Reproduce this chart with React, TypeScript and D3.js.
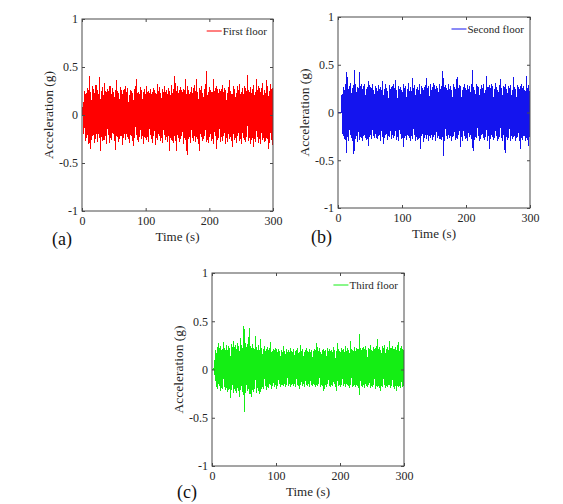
import React, { useEffect, useRef } from 'react';
import * as d3 from 'd3';

// sampled acceleration records, one value per second from t = 0 to 300 s
const timeStep = 1;

const firstFloor = [
  0, 0, 0.14, -0.2, 0.25, -0.27, 0.22, -0.24, 0.28, -0.21, 0.26, -0.3, 0.41, -0.35, 0.24, -0.26, 0.3, -0.22, 0.27, -0.29,
  0.23, -0.25, 0.31, -0.2, 0.26, -0.28, 0.22, -0.24, 0.4, -0.38, 0.25, -0.23, 0.29, -0.27, 0.21, -0.26, 0.33, -0.22, 0.24, -0.3,
  0.27, -0.21, 0.25, -0.29, 0.3, -0.24, 0.22, -0.26, 0.28, -0.2, 0.24, -0.27, 0.26, -0.36, 0.36, -0.23, 0.25, -0.28, 0.23, -0.25,
  0.29, -0.22, 0.26, -0.31, 0.22, -0.24, 0.27, -0.2, 0.3, -0.26, 0.24, -0.23, 0.28, -0.25, 0.21, -0.29, 0.26, -0.22, 0.25, -0.27,
  0.23, -0.32, 0.27, -0.24, 0.3, -0.21, 0.38, -0.26, 0.24, -0.28, 0.22, -0.23, 0.29, -0.25, 0.26, -0.22, 0.24, -0.3, 0.27, -0.24,
  0.22, -0.26, 0.3, -0.23, 0.25, -0.28, 0.23, -0.21, 0.27, -0.25, 0.24, -0.29, 0.28, -0.22, 0.26, -0.31, 0.23, -0.24, 0.32, -0.26,
  0.25, -0.22, 0.29, -0.27, 0.23, -0.24, 0.27, -0.29, 0.24, -0.21, 0.3, -0.26, 0.26, -0.23, 0.22, -0.28, 0.28, -0.38, 0.25, -0.24,
  0.31, -0.26, 0.23, -0.29, 0.27, -0.22, 0.41, -0.27, 0.25, -0.38, 0.3, -0.24, 0.23, -0.28, 0.29, -0.25, 0.26, -0.22, 0.24, -0.3,
  0.27, -0.24, 0.37, -0.26, 0.22, -0.42, 0.3, -0.25, 0.26, -0.23, 0.24, -0.29, 0.29, -0.24, 0.23, -0.27, 0.31, -0.22, 0.25, -0.28,
  0.38, -0.25, 0.24, -0.3, 0.28, -0.37, 0.26, -0.23, 0.3, -0.27, 0.23, -0.25, 0.27, -0.22, 0.32, -0.28, 0.46, -0.26, 0.24, -0.29,
  0.29, -0.23, 0.26, -0.27, 0.24, -0.25, 0.38, -0.3, 0.25, -0.22, 0.28, -0.35, 0.3, -0.26, 0.23, -0.24, 0.27, -0.28, 0.25, -0.23,
  0.31, -0.27, 0.24, -0.22, 0.28, -0.3, 0.26, -0.24, 0.23, -0.28, 0.29, -0.25, 0.36, -0.23, 0.25, -0.27, 0.22, -0.33, 0.3, -0.26,
  0.27, -0.24, 0.23, -0.29, 0.3, -0.22, 0.26, -0.27, 0.32, -0.25, 0.24, -0.3, 0.28, -0.24, 0.22, -0.26, 0.3, -0.28, 0.25, -0.23,
  0.42, -0.27, 0.26, -0.24, 0.29, -0.3, 0.23, -0.26, 0.27, -0.33, 0.31, -0.25, 0.24, -0.28, 0.38, -0.23, 0.26, -0.29, 0.3, -0.25,
  0.24, -0.3, 0.28, -0.26, 0.33, -0.24, 0.26, -0.28, 0.23, -0.27, 0.36, -0.25, 0.3, -0.35, 0.25, -0.29, 0.32, -0.26, 0.27, -0.31,
  0.28,
];

const secondFloor = [
  0, 0, 0, 0, 0, 0, 0.18, -0.22, 0.27, -0.25, 0.24, -0.29, 0.3, -0.42, 0.42, -0.26, 0.25, -0.3, 0.28, -0.24,
  0.31, -0.27, 0.26, -0.3, 0.29, -0.43, 0.45, -0.28, 0.3, -0.25, 0.27, -0.31, 0.26, -0.29, 0.42, -0.26, 0.3, -0.27, 0.25, -0.3,
  0.28, -0.24, 0.3, -0.27, 0.25, -0.29, 0.27, -0.35, 0.33, -0.26, 0.29, -0.24, 0.26, -0.28, 0.3, -0.25, 0.24, -0.27, 0.28, -0.23,
  0.26, -0.28, 0.23, -0.25, 0.29, -0.24, 0.27, -0.3, 0.24, -0.26, 0.33, -0.33, 0.25, -0.27, 0.3, -0.24, 0.26, -0.29, 0.23, -0.25,
  0.29, -0.26, 0.25, -0.28, 0.27, -0.24, 0.3, -0.27, 0.26, -0.25, 0.34, -0.29, 0.24, -0.26, 0.28, -0.3, 0.25, -0.23, 0.27, -0.28,
  0.24, -0.27, 0.3, -0.36, 0.26, -0.25, 0.28, -0.29, 0.25, -0.24, 0.31, -0.27, 0.23, -0.3, 0.27, -0.25, 0.36, -0.28, 0.26, -0.24,
  0.29, -0.3, 0.25, -0.26, 0.27, -0.29, 0.24, -0.27, 0.3, -0.38, 0.28, -0.25, 0.26, -0.31, 0.24, -0.27, 0.29, -0.24, 0.36, -0.28,
  0.26, -0.3, 0.28, -0.25, 0.3, -0.27, 0.24, -0.29, 0.27, -0.26, 0.31, -0.24, 0.25, -0.3, 0.28, -0.27, 0.26, -0.25, 0.3, -0.28,
  0.25, -0.29, 0.28, -0.26, 0.43, -0.46, 0.27, -0.3, 0.29, -0.25, 0.26, -0.28, 0.3, -0.24, 0.25, -0.27, 0.28, -0.3, 0.24, -0.26,
  0.3, -0.25, 0.27, -0.29, 0.25, -0.27, 0.37, -0.28, 0.26, -0.24, 0.29, -0.36, 0.28, -0.26, 0.24, -0.3, 0.27, -0.25, 0.3, -0.28,
  0.26, -0.27, 0.29, -0.3, 0.25, -0.26, 0.28, -0.24, 0.3, -0.28, 0.45, -0.4, 0.27, -0.29, 0.24, -0.26, 0.3, -0.27, 0.28, -0.25,
  0.27, -0.3, 0.25, -0.28, 0.29, -0.24, 0.26, -0.27, 0.3, -0.29, 0.24, -0.26, 0.38, -0.3, 0.27, -0.25, 0.29, -0.38, 0.26, -0.28,
  0.3, -0.26, 0.28, -0.29, 0.25, -0.27, 0.31, -0.25, 0.27, -0.3, 0.24, -0.28, 0.29, -0.26, 0.35, -0.27, 0.26, -0.3, 0.28, -0.24,
  0.27, -0.42, 0.3, -0.26, 0.25, -0.29, 0.28, -0.27, 0.26, -0.3, 0.29, -0.25, 0.24, -0.28, 0.37, -0.26, 0.27, -0.3, 0.25, -0.27,
  0.29, -0.26, 0.27, -0.3, 0.25, -0.38, 0.3, -0.27, 0.26, -0.29, 0.28, -0.25, 0.24, -0.3, 0.38, -0.27, 0.26, -0.35, 0.29, -0.26,
  0.22,
];

const thirdFloor = [
  0, 0, 0, 0, 0.1, -0.12, 0.2, -0.18, 0.23, -0.2, 0.27, -0.17, 0.22, -0.22, 0.24, -0.19, 0.21, -0.2, 0.28, -0.18,
  0.22, -0.21, 0.25, -0.19, 0.2, -0.23, 0.24, -0.2, 0.22, -0.3, 0.26, -0.21, 0.23, -0.24, 0.3, -0.2, 0.25, -0.22, 0.21, -0.24,
  0.27, -0.22, 0.24, -0.28, 0.33, -0.21, 0.25, -0.23, 0.22, -0.26, 0.45, -0.44, 0.27, -0.24, 0.23, -0.22, 0.26, -0.2, 0.43, -0.25,
  0.24, -0.28, 0.22, -0.21, 0.26, -0.23, 0.21, -0.2, 0.35, -0.24, 0.23, -0.19, 0.25, -0.22, 0.2, -0.25, 0.32, -0.2, 0.22, -0.18,
  0.21, -0.2, 0.24, -0.17, 0.19, -0.21, 0.23, -0.18, 0.2, -0.19, 0.22, -0.16, 0.28, -0.2, 0.19, -0.17, 0.21, -0.18, 0.2, -0.16,
  0.22, -0.2, 0.18, -0.17, 0.21, -0.15, 0.19, -0.18, 0.2, -0.16, 0.18, -0.17, 0.24, -0.15, 0.19, -0.18, 0.21, -0.16, 0.18, -0.17,
  0.2, -0.15, 0.22, -0.18, 0.19, -0.16, 0.18, -0.17, 0.21, -0.15, 0.19, -0.18, 0.2, -0.16, 0.22, -0.17, 0.18, -0.2, 0.25, -0.16,
  0.19, -0.17, 0.21, -0.15, 0.18, -0.18, 0.2, -0.16, 0.22, -0.17, 0.19, -0.15, 0.21, -0.18, 0.18, -0.16, 0.2, -0.17, 0.19, -0.15,
  0.21, -0.18, 0.2, -0.16, 0.27, -0.17, 0.19, -0.15, 0.22, -0.18, 0.18, -0.16, 0.2, -0.17, 0.21, -0.22, 0.19, -0.16, 0.2, -0.18,
  0.22, -0.15, 0.19, -0.17, 0.21, -0.18, 0.2, -0.16, 0.18, -0.17, 0.23, -0.15, 0.2, -0.18, 0.19, -0.22, 0.27, -0.17, 0.21, -0.16,
  0.19, -0.18, 0.22, -0.16, 0.2, -0.17, 0.21, -0.15, 0.24, -0.18, 0.19, -0.16, 0.22, -0.17, 0.2, -0.19, 0.3, -0.16, 0.21, -0.18,
  0.2, -0.17, 0.23, -0.16, 0.19, -0.18, 0.22, -0.17, 0.21, -0.19, 0.37, -0.26, 0.22, -0.17, 0.2, -0.18, 0.23, -0.16, 0.21, -0.19,
  0.24, -0.17, 0.2, -0.18, 0.22, -0.16, 0.21, -0.19, 0.25, -0.17, 0.2, -0.18, 0.23, -0.16, 0.21, -0.2, 0.22, -0.17, 0.32, -0.18,
  0.21, -0.19, 0.23, -0.22, 0.2, -0.17, 0.24, -0.18, 0.22, -0.16, 0.25, -0.19, 0.21, -0.17, 0.23, -0.18, 0.2, -0.16, 0.3, -0.19,
  0.22, -0.17, 0.24, -0.18, 0.21, -0.2, 0.23, -0.17, 0.2, -0.22, 0.25, -0.18, 0.28, -0.17, 0.22, -0.19, 0.24, -0.18, 0.21, -0.17,
  0.2,
];

const xTicks = [0, 100, 200, 300];
const yTicks = [-1, -0.5, 0, 0.5, 1];

const panels = [
  { data: firstFloor, name: 'First floor', color: '#ff0000', tag: '(a)', x: 82, y: 19, w: 191, h: 192, tagX: 52, tagY: 245 },
  { data: secondFloor, name: 'Second floor', color: '#1414ee', tag: '(b)', x: 338, y: 17, w: 192, h: 191, tagX: 311, tagY: 243 },
  { data: thirdFloor, name: 'Third floor', color: '#14ee14', tag: '(c)', x: 212, y: 273, w: 192, h: 193, tagX: 177, tagY: 498 },
];

const FONT = '"Liberation Serif", "Times New Roman", serif';
const AXIS_COLOR = '#4a4a4a';
const TEXT_COLOR = '#262626';

export default function App() {
  const svgRef = useRef<SVGSVGElement>(null);

  useEffect(() => {
    if (!svgRef.current) return;
    const svg = d3.select(svgRef.current);
    svg.selectAll('*').remove();

    panels.forEach((p) => {
      const xScale = d3.scaleLinear().domain([0, 300]).range([0, p.w]);
      const yScale = d3.scaleLinear().domain([-1, 1]).range([p.h, 0]);

      const g = svg.append('g').attr('transform', `translate(${p.x},${p.y})`);

      // signal
      const line = d3.line<number>()
        .x((d, i) => xScale(i * timeStep))
        .y((d) => yScale(d));

      g.append('path')
        .datum(p.data)
        .attr('d', line)
        .attr('fill', 'none')
        .attr('stroke', p.color)
        .attr('stroke-width', 1)
        .attr('shape-rendering', 'crispEdges');

      // axes, ticks pointing inward on all four sides
      const styleAxis = (sel: d3.Selection<SVGGElement, unknown, null, undefined>) => {
        sel.attr('font-family', FONT).attr('font-size', 12);
        sel.select('.domain').remove();
        sel.selectAll('line').attr('stroke', AXIS_COLOR);
        sel.selectAll('text').attr('fill', TEXT_COLOR);
      };

      g.append('g')
        .attr('transform', `translate(0,${p.h})`)
        .call(d3.axisBottom(xScale).tickValues(xTicks).tickSizeInner(-3).tickSizeOuter(0).tickPadding(5).tickFormat((d) => String(d)))
        .call(styleAxis);
      g.append('g')
        .call(d3.axisTop(xScale).tickValues(xTicks).tickSizeInner(-3).tickSizeOuter(0).tickFormat(() => ''))
        .call(styleAxis);
      g.append('g')
        .call(d3.axisLeft(yScale).tickValues(yTicks).tickSizeInner(-3).tickSizeOuter(0).tickPadding(4).tickFormat((d) => String(d)))
        .call(styleAxis);
      g.append('g')
        .attr('transform', `translate(${p.w},0)`)
        .call(d3.axisRight(yScale).tickValues(yTicks).tickSizeInner(-3).tickSizeOuter(0).tickFormat(() => ''))
        .call(styleAxis);

      g.append('rect')
        .attr('x', 0)
        .attr('y', 0)
        .attr('width', p.w)
        .attr('height', p.h)
        .attr('fill', 'none')
        .attr('stroke', AXIS_COLOR)
        .attr('stroke-width', 1);

      // axis labels
      g.append('text')
        .attr('x', p.w / 2)
        .attr('y', p.h + 30)
        .attr('text-anchor', 'middle')
        .attr('font-family', FONT)
        .attr('font-size', 13)
        .attr('fill', TEXT_COLOR)
        .text('Time (s)');

      g.append('text')
        .attr('transform', `translate(-29,${p.h / 2}) rotate(-90)`)
        .attr('text-anchor', 'middle')
        .attr('font-family', FONT)
        .attr('font-size', 13.5)
        .attr('fill', TEXT_COLOR)
        .text('Acceleration (g)');

      // legend
      const legendText = g.append('text')
        .attr('x', p.w - 6)
        .attr('y', 16)
        .attr('text-anchor', 'end')
        .attr('font-family', FONT)
        .attr('font-size', 11)
        .attr('fill', TEXT_COLOR)
        .text(p.name);
      const textLen = (legendText.node() as SVGTextElement).getComputedTextLength();
      const textStart = p.w - 6 - textLen;
      g.append('line')
        .attr('x1', textStart - 16)
        .attr('x2', textStart - 1)
        .attr('y1', 12)
        .attr('y2', 12)
        .attr('stroke', p.color)
        .attr('stroke-width', 1);

      // panel tag
      svg.append('text')
        .attr('x', p.tagX)
        .attr('y', p.tagY)
        .attr('font-family', FONT)
        .attr('font-size', 18)
        .attr('fill', '#111')
        .text(p.tag);
    });
  }, []);

  return (
    <svg
      ref={svgRef}
      width={563}
      height={504}
      style={{ position: 'absolute', left: 0, top: 0, background: '#ffffff' }}
    />
  );
}
